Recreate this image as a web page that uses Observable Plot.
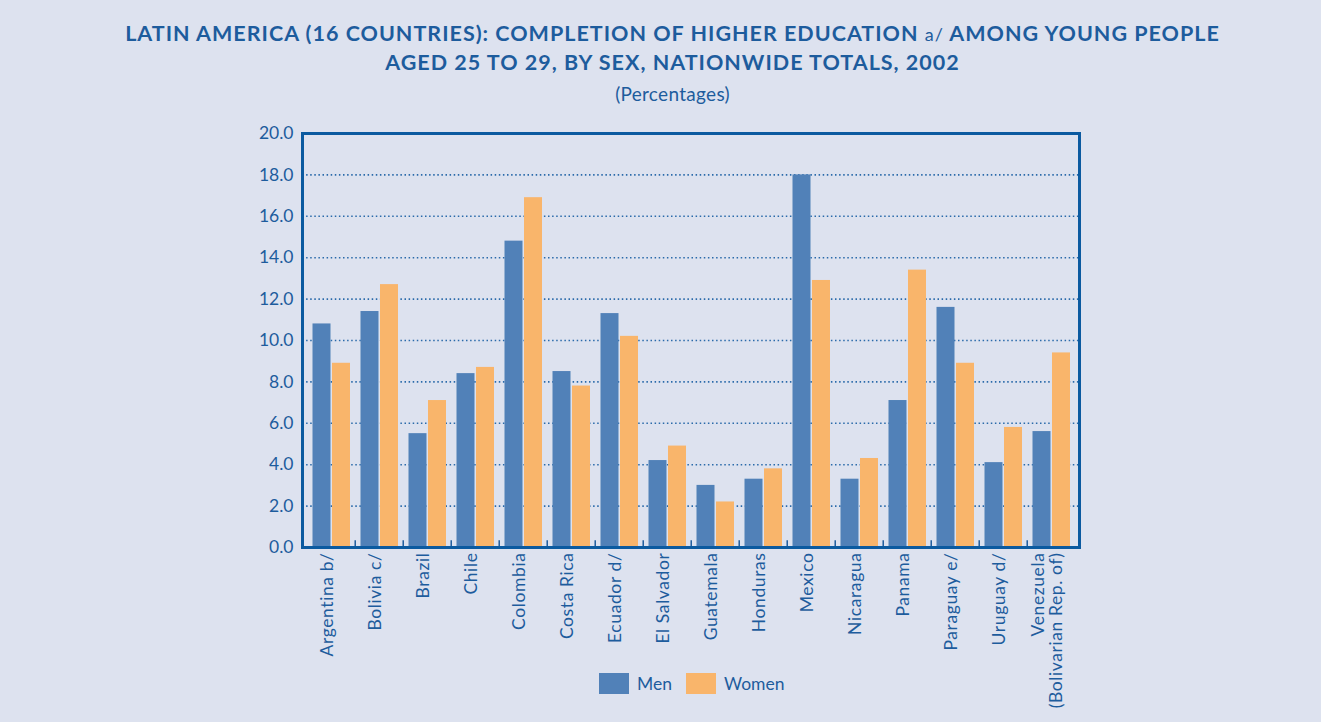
<!DOCTYPE html>
<html><head><meta charset="utf-8">
<script src="https://cdn.jsdelivr.net/npm/d3@7"></script>
<script src="https://cdn.jsdelivr.net/npm/@observablehq/plot@0.6"></script>
<style>
body{margin:0;background:#dde2ef;font-family:Lato,sans-serif;color:#1d5c9d;width:1321px;height:722px;overflow:hidden;position:relative}
.t{position:absolute;left:24px;width:1297px;text-align:center;font-weight:bold;font-size:21.5px;letter-spacing:1px;white-space:nowrap}
.t .n{font-weight:normal;font-size:18px}
.s{position:absolute;left:24px;width:1297px;text-align:center;font-size:19px;letter-spacing:0.3px;top:82px}
#chart{position:absolute;left:0;top:120px}
#chart g[aria-label="x-axis tick label"] text{letter-spacing:0.6px}
.lg{position:absolute;top:673px;font-size:17.5px}
.sw{position:absolute;top:673px;width:30px;height:21px}
</style></head><body>
<div class="t" style="top:20px">LATIN AMERICA (16 COUNTRIES): COMPLETION OF HIGHER EDUCATION <span class="n">a/</span> AMONG YOUNG PEOPLE</div>
<div class="t" style="top:49px">AGED 25 TO 29, BY SEX, NATIONWIDE TOTALS, 2002</div>
<div class="s">(Percentages)</div>
<div id="chart"></div>
<div class="sw" style="left:599px;background:#5181b8"></div><div class="lg" style="left:637px">Men</div>
<div class="sw" style="left:686px;background:#f9b56b"></div><div class="lg" style="left:724px">Women</div>
<script>
const countries = ["Argentina b/","Bolivia c/","Brazil","Chile","Colombia","Costa Rica","Ecuador d/","El Salvador","Guatemala","Honduras","Mexico","Nicaragua","Panama","Paraguay e/","Uruguay d/","Venezuela\n(Bolivarian Rep. of)"];
const men   = [10.8,11.4,5.5,8.4,14.8,8.5,11.3,4.2,3.0,3.3,18.0,3.3,7.1,11.6,4.1,5.6];
const women = [8.9,12.7,7.1,8.7,16.9,7.8,10.2,4.9,2.2,3.8,12.9,4.3,13.4,8.9,5.8,9.4];
const yTicks = [0,2,4,6,8,10,12,14,16,18,20];
const gridTicks = [2,4,6,8,10,12,14,16,18];

const menData = countries.map((c,i)=>({country:c, value:men[i]}));
const womenData = countries.map((c,i)=>({country:c, value:women[i]}));
const blue = "#1d5c9d";
const W = 1321, mL = 302, mR = 242;
const bw = (W - mL - mR) / countries.length;

const chart = Plot.plot({
  width: W, height: 602,
  marginTop: 13, marginBottom: 175, marginLeft: mL, marginRight: mR,
  style: {background: "transparent", fontFamily: "Lato, sans-serif", color: blue},
  x: {domain: countries, padding: 0, label: null},
  y: {domain: [0, 20], label: null},
  marks: [
    Plot.ruleY(gridTicks, {stroke: "#2a6aaa", strokeDasharray: "1.5,2.6", strokeWidth: 1.6}),
    Plot.barY(menData, {x: "country", y: "value", fill: "#5181b8", insetLeft: 5.5, insetRight: 24.5}),
    Plot.barY(womenData, {x: "country", y: "value", fill: "#f9b56b", insetLeft: 25, insetRight: 5}),
    Plot.ruleX(countries.slice(1), {x: d => d, y1: 0, y2: 0.33, dx: -bw/2, stroke: blue, strokeWidth: 1.5}),
    Plot.frame({stroke: "#0b5aa0", strokeWidth: 3}),
    Plot.axisY(yTicks, {tickFormat: d => d.toFixed(1), tickSize: 0, tickPadding: 9, fontSize: 17.5, label: null}),
    Plot.axisX({tickRotate: -90, tickSize: 0, tickPadding: 5, dx: -4, fontSize: 17.5, label: null})
  ]
});
document.getElementById("chart").appendChild(chart);
</script>
</body></html>
